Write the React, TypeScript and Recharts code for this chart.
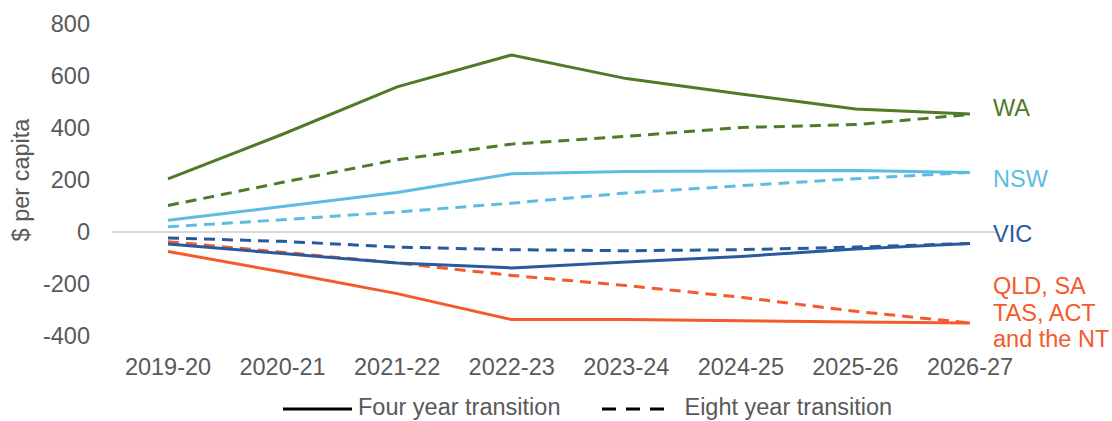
import React from 'react';
import { LineChart, Line, XAxis, YAxis, ReferenceLine, LabelList } from 'recharts';

const categories = ['2019-20', '2020-21', '2021-22', '2022-23', '2023-24', '2024-25', '2025-26', '2026-27'];

// $ per capita, four year vs eight year transition
const waFour = [204, 376, 558, 681, 590, 531, 473, 454];
const waEight = [102, 191, 278, 338, 368, 402, 413, 452];
const nswFour = [45, 98, 152, 224, 233, 235, 237, 229];
const nswEight = [20, 47, 77, 111, 150, 178, 205, 229];
const vicFour = [-46, -83, -119, -138, -115, -94, -65, -44];
const vicEight = [-23, -36, -58, -68, -72, -68, -58, -44];
const otherFour = [-75, -154, -237, -337, -337, -341, -346, -350];
const otherEight = [-37, -78, -119, -167, -206, -251, -305, -350];

const yTicks = [-400, -200, 0, 200, 400, 600, 800];
const stateLabels = [['WA'], ['NSW'], ['VIC'], ['QLD, SA', 'TAS, ACT', 'and the NT']];

const FONT = '"Liberation Sans", Arial, sans-serif';
const GREY = '#595959';

const data = categories.map((name, i) => ({
  name,
  waFour: waFour[i],
  waEight: waEight[i],
  nswFour: nswFour[i],
  nswEight: nswEight[i],
  vicFour: vicFour[i],
  vicEight: vicEight[i],
  otherFour: otherFour[i],
  otherEight: otherEight[i],
}));

const groups = [
  { four: 'waFour', eight: 'waEight', color: '#4f7a28', labelDy: 2 },
  { four: 'nswFour', eight: 'nswEight', color: '#5dbce0', labelDy: 15 },
  { four: 'vicFour', eight: 'vicEight', color: '#2a5a9e', labelDy: -1 },
  { four: 'otherFour', eight: 'otherEight', color: '#f45a2a', labelDy: -29 },
];

const makeEndLabel = (lines: string[], color: string, dy: number) => (props: any) => {
  const { x, y, index } = props;
  if (index !== categories.length - 1) return null;
  return (
    <text x={x + 23} y={y + dy} fill={color} fontSize={23.5} fontFamily={FONT}>
      {lines.map((t, i) => (
        <tspan key={t} x={x + 23} dy={i === 0 ? 0 : 26.5}>{t}</tspan>
      ))}
    </text>
  );
};

const YTitle = (props: any) => {
  const { viewBox } = props;
  const cx = viewBox.x + 29;
  const cy = viewBox.y + viewBox.height / 2;
  return (
    <text x={cx} y={cy} transform={`rotate(-90 ${cx} ${cy})`} textAnchor="middle" fill={GREY} fontSize={23.5} fontFamily={FONT}>
      $ per capita
    </text>
  );
};

const legendText: React.CSSProperties = { fontFamily: FONT, fontSize: 23.5, color: GREY, whiteSpace: 'nowrap' };

export default function App() {
  return (
    <div style={{ position: 'absolute', left: 0, top: 0, width: 1112, height: 421, background: '#fff' }}>
      <LineChart width={1112} height={421} data={data} margin={{ top: 24, right: 115, bottom: 0, left: 0 }}>
        <XAxis
          dataKey="name"
          axisLine={false}
          tickLine={false}
          height={85}
          tickMargin={16}
          padding={{ left: 56, right: 27 }}
          tick={{ fill: GREY, fontSize: 23.5, fontFamily: FONT }}
          interval={0}
        />
        <YAxis
          width={112}
          domain={[-400, 800]}
          ticks={yTicks}
          axisLine={false}
          tickLine={false}
          tickMargin={16}
          tick={{ fill: GREY, fontSize: 23.5, fontFamily: FONT }}
          label={<YTitle />}
        />
        <ReferenceLine y={0} stroke="#d9d9d9" strokeWidth={2} />
        {groups.map((g) => (
          <Line
            key={g.eight}
            dataKey={g.eight}
            stroke={g.color}
            strokeWidth={3}
            strokeDasharray="11 7"
            dot={false}
            activeDot={false}
            isAnimationActive={false}
          />
        ))}
        {groups.map((g, i) => (
          <Line
            key={g.four}
            dataKey={g.four}
            stroke={g.color}
            strokeWidth={3}
            dot={false}
            activeDot={false}
            isAnimationActive={false}
          >
            <LabelList dataKey={g.four} content={makeEndLabel(stateLabels[i], g.color, g.labelDy)} />
          </Line>
        ))}
      </LineChart>
      <div style={{ position: 'absolute', left: 283, top: 394, display: 'flex', alignItems: 'center' }}>
        <svg width={69} height={26}>
          <line x1={0} y1={14} x2={69} y2={14} stroke="#000" strokeWidth={3} />
        </svg>
        <span style={{ ...legendText, marginLeft: 6 }}>Four year transition</span>
        <svg width={62} height={26} style={{ marginLeft: 42 }}>
          <line x1={0} y1={14} x2={62} y2={14} stroke="#000" strokeWidth={3} strokeDasharray="14 10" />
        </svg>
        <span style={{ ...legendText, marginLeft: 20 }}>Eight year transition</span>
      </div>
    </div>
  );
}
